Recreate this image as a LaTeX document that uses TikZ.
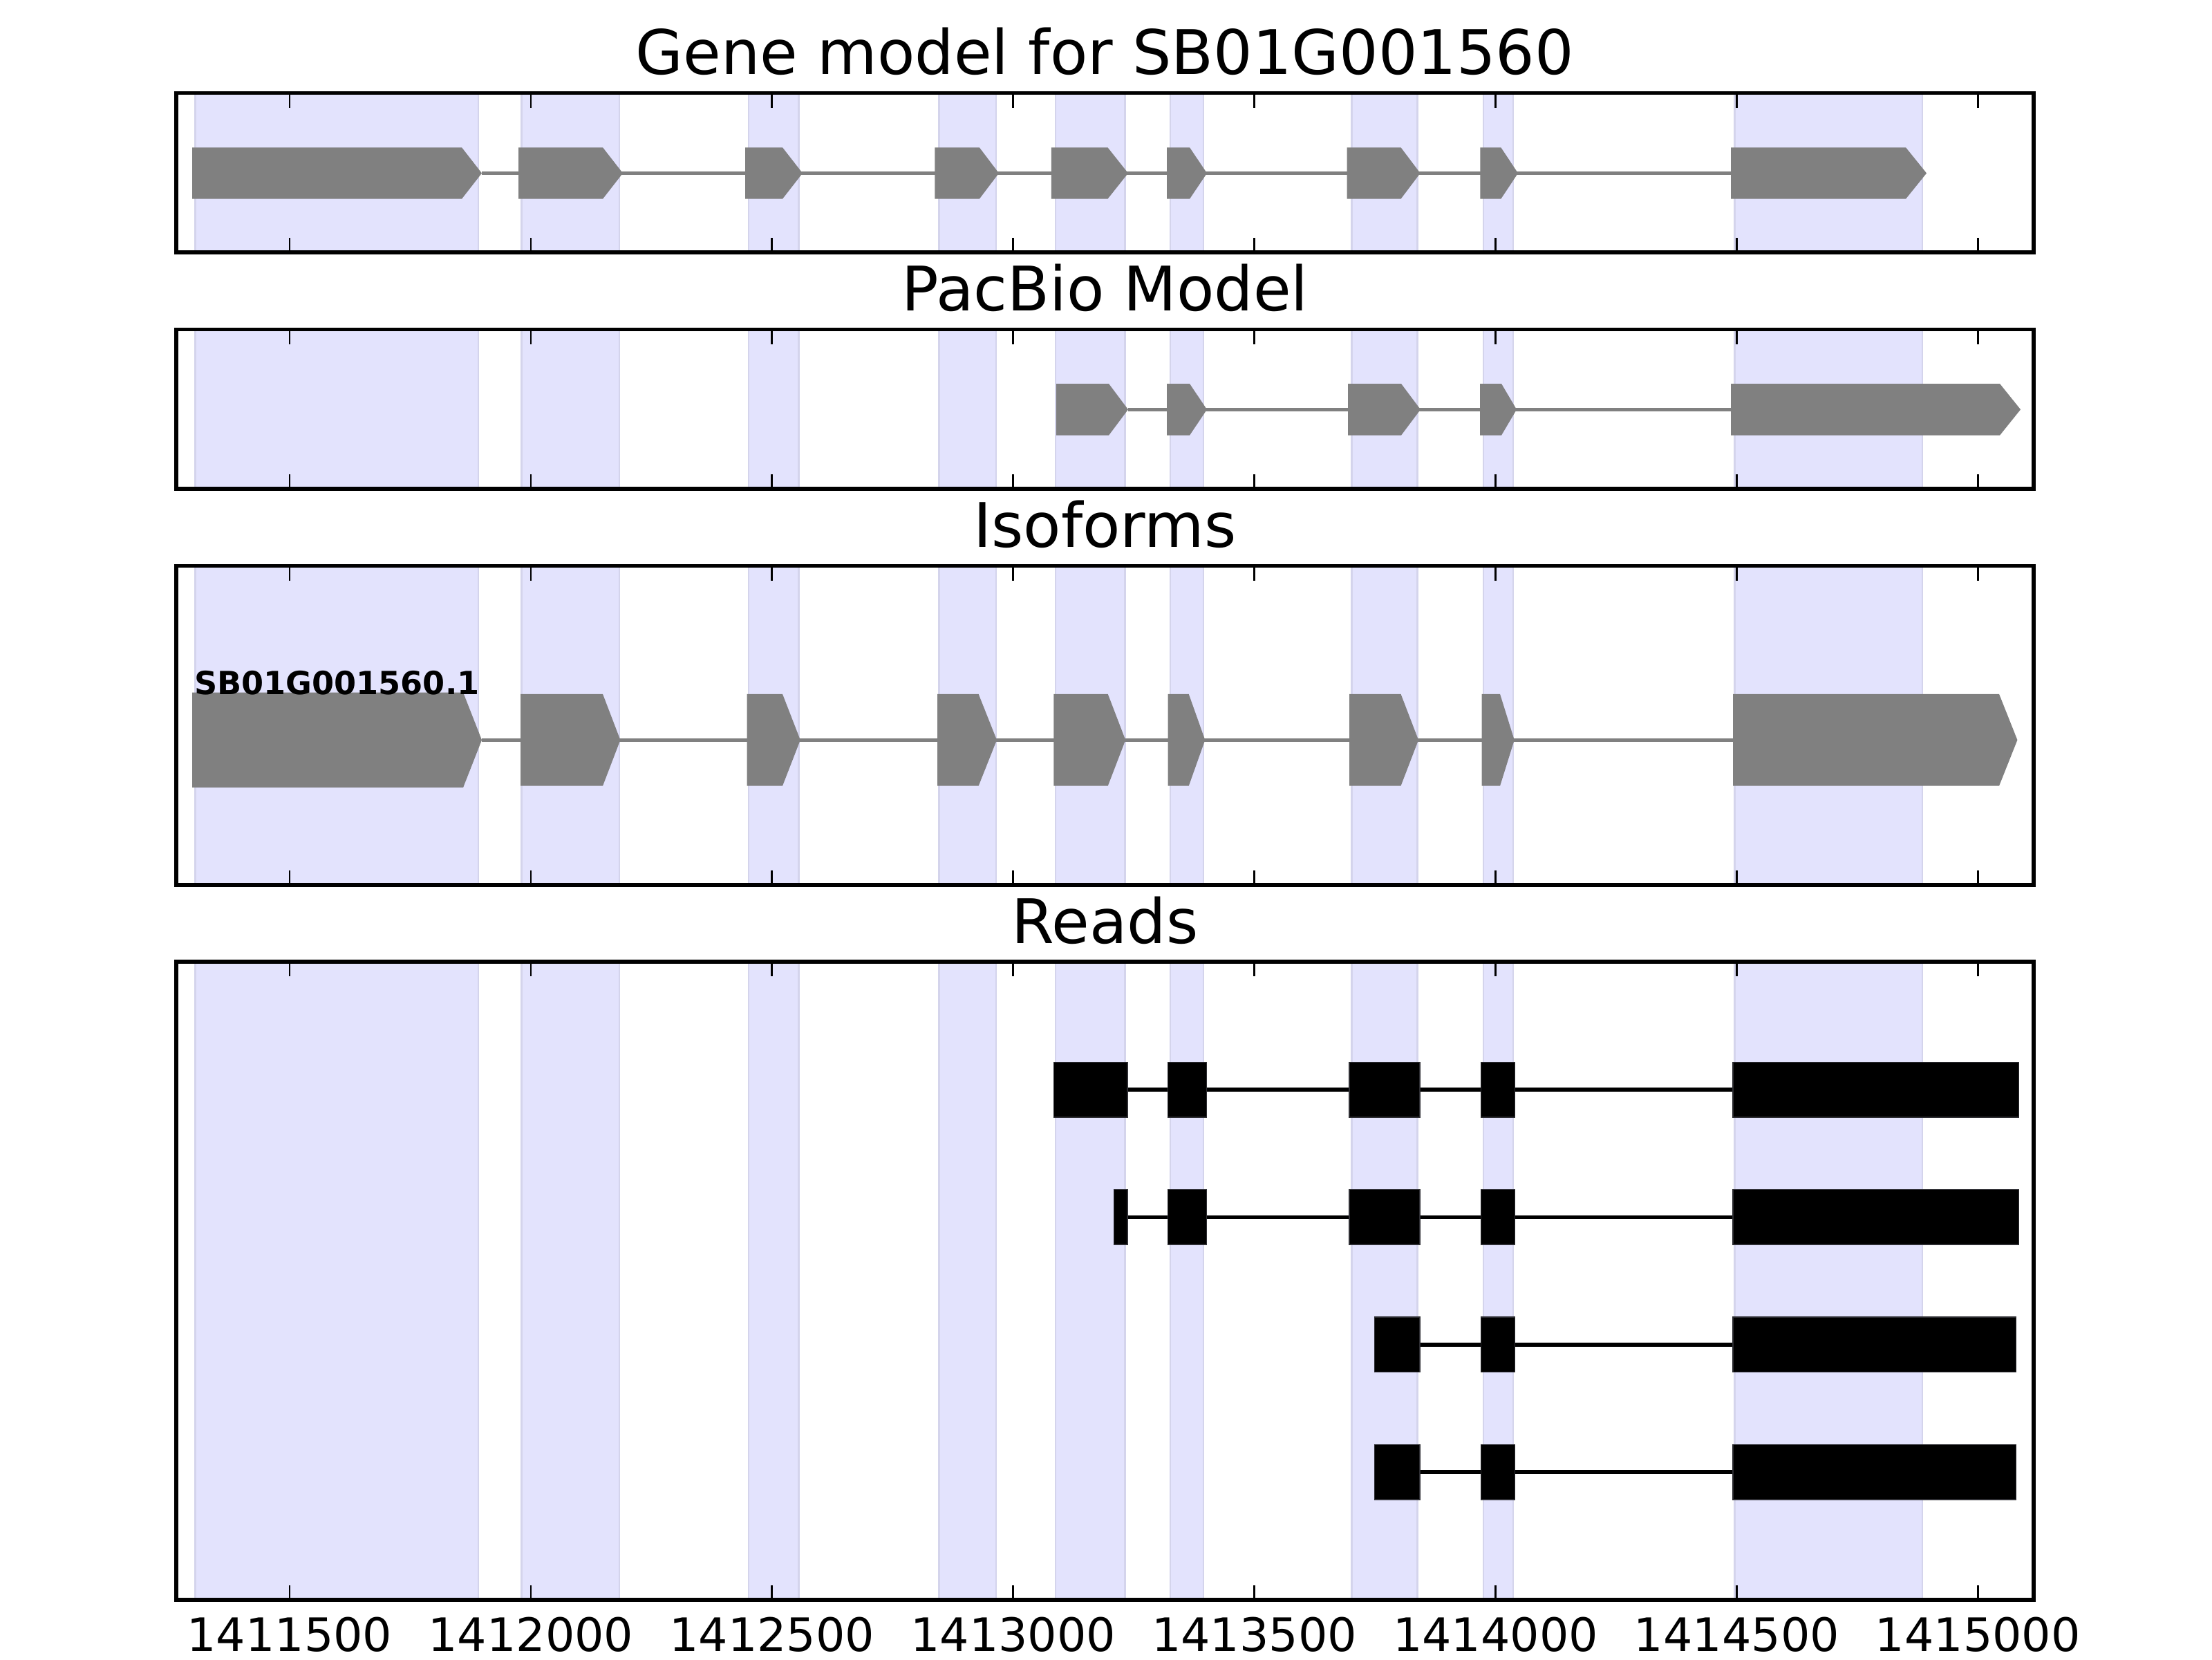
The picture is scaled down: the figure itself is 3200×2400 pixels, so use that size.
\documentclass[tikz,border=0pt]{standalone}
\usepackage{fontspec}
\setmainfont{DejaVu Sans}
\definecolor{bandfill}{RGB}{227,227,253}
\definecolor{bandedge}{RGB}{212,212,236}
\definecolor{genegray}{RGB}{128,128,128}
\definecolor{readedge}{RGB}{45,45,50}
\newcommand{\exonarrow}[5]{%
  \fill[exon] ({#1},{#4-#5}) -- ({#2},{#4-#5}) -- ({#3},{#4}) -- ({#2},{#4+#5}) -- ({#1},{#4+#5}) -- cycle;}
\begin{document}
\begin{tikzpicture}[x=0.18pt,y=-0.18pt,
  band/.style={fill=bandfill,draw=bandedge,line width=0.5pt},
  frame/.style={draw=black,line width=1pt},
  tickmark/.style={draw=black,line width=0.5pt},
  intron/.style={draw=genegray,line width=0.9pt},
  readintron/.style={draw=black,line width=1pt},
  exon/.style={fill=genegray},
  readexon/.style={fill=black,draw=readedge,line width=0.25pt},
  paneltitle/.style={font=\fontsize{16}{19}\selectfont,anchor=base,inner sep=0pt},
  ticklabel/.style={font=\fontsize{12}{14}\selectfont,anchor=base,inner sep=0pt},
  isolabel/.style={font=\fontsize{8.3}{10}\selectfont\bfseries,anchor=base west,inner sep=0pt}]
\useasboundingbox (0,0) rectangle (3200,2400);
\fill[white] (0,0) rectangle (3200,2400);

% shaded exon bands in every panel
\foreach \top/\bot in {134.5/365.2, 476.5/707.2, 818.5/1279.9, 1391.2/2314}{
  \foreach \a/\b in {282.5/692, 754.4/896, 1083/1155.6, 1358.2/1441, 1527/1627.3,
                     1693/1741, 1955.7/2050.5, 2146/2189, 2509.5/2781}{
    \filldraw[band] (\a,\top) rectangle (\b,\bot);
  }
}

% Panel 1: gene model
\draw[intron] (697,250.5) -- (2504,250.5);
\foreach \a/\b/\t in {278/668/697, 750/872/901, 1078/1132/1161, 1352.4/1416.8/1445,
                      1520.8/1602.4/1632, 1688/1721/1746, 1948.7/2026.5/2054.6,
                      2141.3/2171.3/2196, 2504/2757/2787}{
  \exonarrow{\a}{\b}{\t}{250.5}{37.2}
}

% Panel 2: PacBio model
\draw[intron] (1632,592.3) -- (2504,592.3);
\foreach \a/\b/\t in {1528/1604/1632, 1688/1721/1746, 1950/2027/2055,
                      2141/2172/2194, 2504/2893/2923}{
  \exonarrow{\a}{\b}{\t}{592.3}{37.3}
}

% Panel 3: isoforms
\draw[intron] (697,1070.3) -- (2507,1070.3);
\exonarrow{278}{670}{697}{1070.3}{68.8}
\foreach \a/\b/\t in {753/872/897.4, 1080.7/1132/1157.8, 1356/1415.6/1442,
                      1524.4/1602.7/1628.2, 1689.5/1719.7/1743.3, 1952/2026.5/2052,
                      2143.5/2170/2190.7, 2507/2892/2918.4}{
  \exonarrow{\a}{\b}{\t}{1070.3}{66.4}
}
\node[isolabel] (iso1) at (280,1004.3) {SB01G001560.1};

% Panel 4: reads
\draw[readintron] (1524.4,1576) -- (2507,1576);
\foreach \a/\b in {1524.4/1631, 1689.5/1745.2, 1951.9/2053.9, 2142.6/2191.7, 2507/2920.3}{
  \filldraw[readexon] (\a,1536.2) rectangle (\b,1615.8);
}
\draw[readintron] (1611.2,1760.3) -- (2507,1760.3);
\foreach \a/\b in {1611.2/1631, 1689.5/1745.2, 1951.9/2053.9, 2142.6/2191.7, 2507/2920.3}{
  \filldraw[readexon] (\a,1720.5) rectangle (\b,1800.1);
}
\draw[readintron] (1988.7,1944.7) -- (2507,1944.7);
\foreach \a/\b in {1988.7/2053.9, 2142.6/2191.7, 2507/2916.5}{
  \filldraw[readexon] (\a,1904.9) rectangle (\b,1984.5);
}
\draw[readintron] (1988.7,2129) -- (2507,2129);
\foreach \a/\b in {1988.7/2053.9, 2142.6/2191.7, 2507/2916.5}{
  \filldraw[readexon] (\a,2089.2) rectangle (\b,2168.8);
}

% frames and ticks
\foreach \top/\bot in {134.5/365.2, 476.5/707.2, 818.5/1279.9, 1391.2/2314}{
  \foreach \x in {419, 767.9, 1116.8, 1465.7, 1814.6, 2163.5, 2512.4, 2861.3}{
    \draw[tickmark] (\x,\top) -- (\x,\top+21);
    \draw[tickmark] (\x,\bot) -- (\x,\bot-21);
  }
  \draw[frame] (255,\top) rectangle (2942,\bot);
}

% titles
\node[paneltitle] (title1) at (1598.5,107.7) {Gene model for SB01G001560};
\node[paneltitle] (title2) at (1598.5,449.7) {PacBio Model};
\node[paneltitle] (title3) at (1598.5,791.7) {Isoforms};
\node[paneltitle] (title4) at (1598.5,1364) {Reads};

% x tick labels
\node[ticklabel] (t1) at (419,2388.3) {1411500};
\node[ticklabel] (t2) at (767.9,2388.3) {1412000};
\node[ticklabel] (t3) at (1116.8,2388.3) {1412500};
\node[ticklabel] (t4) at (1465.7,2388.3) {1413000};
\node[ticklabel] (t5) at (1814.6,2388.3) {1413500};
\node[ticklabel] (t6) at (2163.5,2388.3) {1414000};
\node[ticklabel] (t7) at (2512.4,2388.3) {1414500};
\node[ticklabel] (t8) at (2861.3,2388.3) {1415000};
\end{tikzpicture}
\end{document}
